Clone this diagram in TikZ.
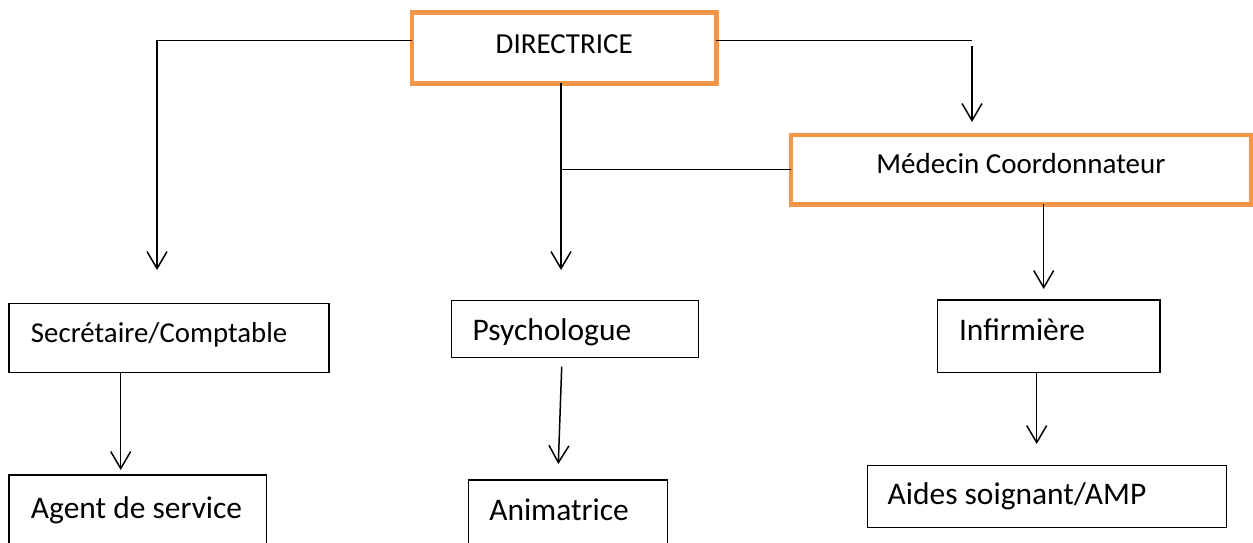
\documentclass[tikz,border=0pt]{standalone}
\usepackage{fontspec}
\setmainfont{Carlito}
\usetikzlibrary{arrows.meta}
\definecolor{boxorange}{HTML}{F79646}
\newcommand{\boxtxtl}[2]{\makebox[#1][l]{#2}}
\newcommand{\boxtxtc}[2]{\makebox[#1][c]{#2}}
\begin{document}
\begin{tikzpicture}[x=0.02cm,y=-0.02cm,
  hbox/.style={draw=boxorange, line width=0.094cm, outer sep=0pt, inner ysep=0pt, inner xsep=0pt,
    anchor=north west, font=\fontsize{16.5}{19}\selectfont},
  sbox/.style={draw=black, line width=0.8pt, outer sep=0pt, inner ysep=0pt,
    anchor=north west, font=\fontsize{17.9}{21}\selectfont},
  conn/.style={line width=0.85pt},
  arr/.style={conn, -{Straight Barb[length=0.34cm,width=0.4cm,line width=0.85pt]}}]
\clip (0,0) rectangle (1253,543);
\fill[white] (0,0) rectangle (1253,543);

% boxes
\node[hbox, text height=0.816cm, text depth=0.604cm] (dir) at (412,12.5) {\boxtxtc{6.09cm}{DIRECTRICE}};
\node[hbox, text height=0.78cm, text depth=0.61cm] (med) at (791,135) {\boxtxtc{9.2cm}{Médecin Coordonnateur}};
\node[sbox, inner xsep=0.44cm, text height=0.788cm, text depth=0.6cm] (sec) at (9,303.3) {\boxtxtl{5.52cm}{\fontsize{16.4}{20}\selectfont Secrétaire/Comptable}};
\node[sbox, inner xsep=0.42cm, text height=0.8cm, text depth=0.34cm] (psy) at (451.7,300.7) {\boxtxtl{4.1cm}{Psychologue}};
\node[sbox, inner xsep=0.426cm, text height=0.814cm, text depth=0.632cm] (inf) at (937.7,300) {\boxtxtl{3.594cm}{Infirmière}};
\node[sbox, inner xsep=0.44cm, text height=0.866cm, text depth=1.634cm] (agt) at (9,475) {\boxtxtl{4.274cm}{Agent de service}};
\node[sbox, inner xsep=0.42cm, text height=0.814cm, text depth=1.586cm] (ani) at (468.3,480) {\boxtxtl{3.148cm}{Animatrice}};
\node[sbox, inner xsep=0.408cm, text height=0.786cm, text depth=0.454cm] (aid) at (867.3,465.7) {\boxtxtl{6.372cm}{Aides soignant/AMP}};

% junction points and free arrow ends
\coordinate (jl) at (157,40.7);
\coordinate (tl) at (157,270);
\coordinate (jr) at (972,40.7);
\coordinate (sr) at (972,46);
\coordinate (tr) at (972,122);
\coordinate (tm) at (561,270);
\coordinate (jm) at (561,169.3);
\coordinate (tmed) at (1043.7,289);
\coordinate (tsec) at (120.7,470);
\coordinate (spsy) at (561.7,366.7);
\coordinate (tpsy) at (558.3,464);
\coordinate (tinf) at (1036.7,444);

% connectors
\draw[arr] (dir.west |- jl) -- (jl) -- (tl);
\draw[conn] (dir.east |- jr) -- (jr);
\draw[arr] (sr) -- (tr);
\draw[arr] (dir.south -| tm) -- (tm);
\draw[conn] (med.west |- jm) -- (jm);
\draw[arr] (med.south -| tmed) -- (tmed);
\draw[arr] (sec.south -| tsec) -- (tsec);
\draw[arr] (spsy) -- (tpsy);
\draw[arr] (inf.south -| tinf) -- (tinf);
\end{tikzpicture}
\end{document}
